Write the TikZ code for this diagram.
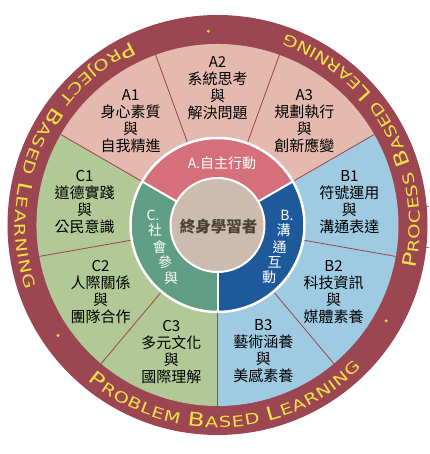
\documentclass[tikz,border=0pt]{standalone}
\usepackage{fontspec}
\usetikzlibrary{decorations.text}
\newfontfamily\cjk{Noto Sans CJK TC}
\newfontfamily\ringfont[FakeStretch=1.3]{DejaVu Sans}
\newcommand{\ringbig}{\ringfont\fontsize{19}{19}\selectfont}
\newcommand{\ringsmall}{\ringfont\fontsize{15}{15}\selectfont}
\definecolor{ringred}{HTML}{9B4650}
\definecolor{ringyellow}{HTML}{F0E146}
\definecolor{paleA}{HTML}{E4BAAE}
\definecolor{paleB}{HTML}{9ECBE1}
\definecolor{paleC}{HTML}{B0C996}
\definecolor{midA}{HTML}{D5707A}
\definecolor{midB}{HTML}{1E5A9B}
\definecolor{midC}{HTML}{5F9D84}
\definecolor{coreclr}{HTML}{CDBCAE}
\definecolor{coretext}{HTML}{4B442D}
\tikzset{
  sector text/.style={font=\cjk\fontsize{15}{17}\selectfont, align=center, inner sep=0pt},
  mid text/.style={font=\cjk\fontsize{14}{14}\selectfont, text=white, inner sep=0pt},
  divider/.style={ringred, line width=0.8pt},
  ring text/.style={decorate, decoration={text along path, text align={fit to path}, text color=ringyellow}}
}
\begin{document}
\begin{tikzpicture}[x=1pt, y=1pt]
				% radii
				\def\rout{210}
				\def\rtext{202.5}
				\def\rin{181}
				\def\rmid{87}
				\def\rcore{47}
				
				\useasboundingbox (-217.5,-229) rectangle (211.5,225);
				
				% outer ring and sectors
				\fill[ringred] (0,0) circle[radius=\rout];
				\fill[paleA] (0,0) -- (30:\rin) arc[start angle=30, end angle=150, radius=\rin] -- cycle;
				\fill[paleB] (0,0) -- (-90:\rin) arc[start angle=-90, end angle=30, radius=\rin] -- cycle;
				\fill[paleC] (0,0) -- (150:\rin) arc[start angle=150, end angle=270, radius=\rin] -- cycle;
				\foreach \a in {-90,-50,...,230}
					\draw[divider] (\a:\rmid) -- (\a:\rin);
				
				% middle ring
				\fill[midA] (0,0) -- (30:\rmid) arc[start angle=30, end angle=150, radius=\rmid] -- cycle;
				\fill[midB] (0,0) -- (-90:\rmid) arc[start angle=-90, end angle=30, radius=\rmid] -- cycle;
				\fill[midC] (0,0) -- (150:\rmid) arc[start angle=150, end angle=270, radius=\rmid] -- cycle;
				\foreach \a in {30,150,270}
					\draw[white, line width=2pt] (\a:\rcore) -- (\a:\rmid);
				\draw[white, line width=2.5pt] (0,0) circle[radius=\rmid];
				\fill[coreclr] (0,0) circle[radius=\rcore];
				\draw[white, line width=2pt] (0,0) circle[radius=\rcore];
				
				% ring texts
				\path[ring text, decoration={text={|\ringbig|P|\ringsmall|ROCESS |\ringbig|B|\ringsmall|ASED |\ringbig|L|\ringsmall|EARNING}}]
					(-12.4:\rtext) arc[start angle=-12.4, end angle=70.4, radius=\rtext];
				\path[ring text, decoration={text={|\ringbig|P|\ringsmall|ROJECT |\ringbig|B|\ringsmall|ASED |\ringbig|L|\ringsmall|EARNING}}]
					(115.1:\rtext) arc[start angle=115.1, end angle=198.8, radius=\rtext];
				\path[ring text, decoration={text={|\ringbig|P|\ringsmall|ROBLEM |\ringbig|B|\ringsmall|ASED |\ringbig|L|\ringsmall|EARNING}}]
					(230.1:\rtext) arc[start angle=230.1, end angle=315.4, radius=\rtext];
				\foreach \a in {92.7,214.7,330.4}
					\fill[ringyellow] (\a:194) circle[radius=1.6];
				\draw[gray, line width=0.8pt] (208.5,19) -- (211.5,19);
				\draw[gray, line width=0.8pt] (208.5,-22) -- (211.5,-22);
				
				% sector labels
				\node[sector text] (a1) at (130:135) {A1\\身心素質\\與\\自我精進};
				\node[sector text] (a2) at (90:137) {A2\\系統思考\\與\\解決問題};
				\node[sector text] (a3) at (50:135) {A3\\規劃執行\\與\\創新應變};
				\node[sector text] (b1) at (10:134) {B1\\符號運用\\與\\溝通表達};
				\node[sector text] (b2) at (-30:134) {B2\\科技資訊\\與\\媒體素養};
				\node[sector text] (b3) at (-70:134) {B3\\藝術涵養\\與\\美感素養};
				\node[sector text] (c1) at (170:135) {C1\\道德實踐\\與\\公民意識};
				\node[sector text] (c2) at (210:135) {C2\\人際關係\\與\\團隊合作};
				\node[sector text] (c3) at (250:135) {C3\\多元文化\\與\\國際理解};
				
				% middle labels
				\node[mid text] (mida) at (4.5,62) {A.自主行動};
				\foreach \ch/\x/\y [count=\i] in {B./69.5/10, 溝/66/-5, 通/62/-22, 互/57/-37, 動/51.5/-52}
					\node[mid text] (midb\i) at (\x,\y) {\ch};
				\foreach \ch/\x/\y [count=\i] in {C./-64.5/10, 社/-62.5/-5, 會/-58/-22, 參/-52.5/-37, 與/-46.5/-53}
					\node[mid text] (midc\i) at (\x,\y) {\ch};
				\node[font=\cjk\bfseries\fontsize{15.5}{15.5}\selectfont, text=coretext] (core) at (1,-2) {終身學習者};
\end{tikzpicture}
\end{document}
